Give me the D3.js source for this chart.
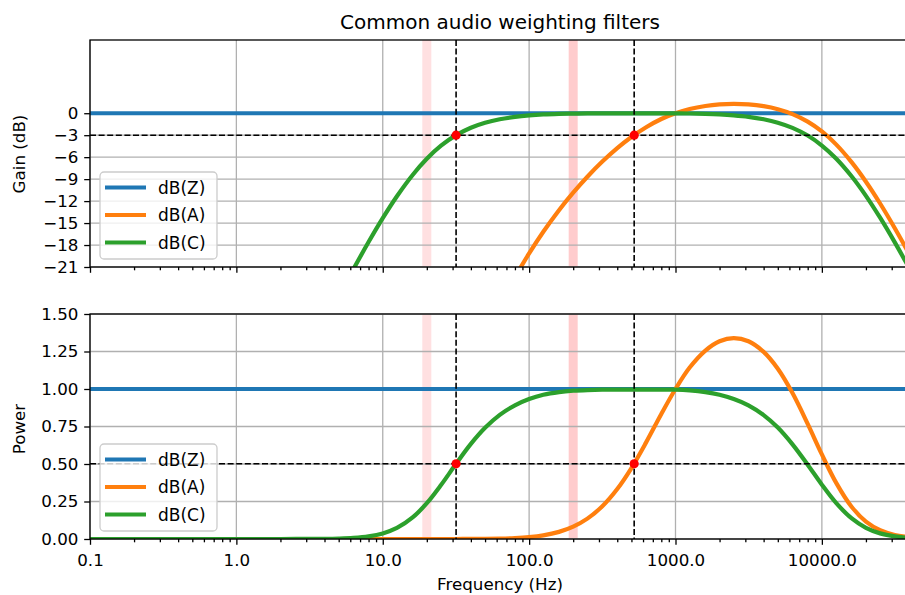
<!DOCTYPE html>
<html>
<head>
<meta charset="utf-8">
<script src="https://cdn.jsdelivr.net/npm/d3@7"></script>
<style>
body { margin: 0; background: #fff; }
svg text { font-family: "DejaVu Sans", sans-serif; fill: #000; }
</style>
</head>
<body>
<div id="chart"></div>
<script>
// frequencies (Hz) and the weighting gains (dB)
var freqs = [0.1, 1, 2, 4, 5, 6.3, 8, 10, 12.5, 16, 20, 25, 31.5, 40, 50, 63, 80, 100, 125, 160,
    200, 250, 315, 400, 500, 630, 800, 1000, 1250, 1600, 2000, 2500, 3150, 4000, 5000, 6300,
    8000, 10000, 12500, 16000, 20000, 25000, 31500, 40000];
var dbA = [-228.6, -148.6, -124.5, -100.7, -93.2, -85.4, -77.56, -70.44, -63.59, -56.43, -50.40,
    -44.82, -39.53, -34.54, -30.28, -26.22, -22.40, -19.15, -16.19, -13.24, -10.85, -8.67, -6.64,
    -4.77, -3.25, -1.91, -0.79, 0, 0.58, 0.99, 1.20, 1.27, 1.20, 0.96, 0.55, -0.12, -1.15, -2.49,
    -4.25, -6.71, -9.35, -12.33, -15.70, -19.41];
var dbC = [-92.50, -52.52, -40.54, -28.73, -25.03, -21.30, -17.59, -14.33, -11.34, -8.43, -6.22,
    -4.44, -3.03, -1.98, -1.30, -0.82, -0.50, -0.30, -0.17, -0.09, -0.05, -0.03, -0.02, -0.02, -0.02,
    -0.02, -0.02, -0.02, -0.04, -0.09, -0.17, -0.30, -0.50, -0.83, -1.29, -2.00, -3.05, -4.41, -6.18,
    -8.64, -11.28, -14.27, -17.64, -21.35];
var zFreqs = [0.1, 40000];
var dbZ = [0, 0];

var seriesNames = ["dB(Z)", "dB(A)", "dB(C)"];
var halfPowerFreqs = [31.7, 522];   // where C and A cross -3 dB
var bandFreqs = [20, 200];
var freqTicks = [0.1, 1, 10, 100, 1000, 10000];
var gainTicks = [0, -3, -6, -9, -12, -15, -18, -21];
var powerTicks = [0, 0.25, 0.5, 0.75, 1.0, 1.25, 1.5];

var width = 905, height = 595;
var margin = {left: 90, right: -5};
var colors = ["#1f77b4", "#ff7f0e", "#2ca02c"];
var bandColors = ["#ffe0e1", "#ffcccd"];

var svg = d3.select("#chart").append("svg").attr("width", width).attr("height", height);

var xs = d3.scaleLog().domain([0.1, 40000]).range([margin.left, width - margin.right]);

var minorTicks = [];
freqTicks.forEach(function(d) {
    for (var k = 2; k <= 9; k++) {
        if (d * k < 40000) minorTicks.push(d * k);
    }
});

function toPower(db) { return Math.pow(10, db / 10); }

function series(fs, vals) {
    return fs.map(function(f, i) { return {f: f, v: vals[i]}; });
}

function panel(opt) {
    var top = opt.top, bottom = opt.top + opt.h;
    var ys = d3.scaleLinear().domain(opt.domain).range([bottom, top]);
    var g = svg.append("g");
    var clipId = "clip" + opt.id;
    svg.append("clipPath").attr("id", clipId).append("rect")
        .attr("x", margin.left).attr("y", top)
        .attr("width", xs.range()[1] - margin.left).attr("height", opt.h);

    // bands
    g.selectAll(".band").data(bandFreqs).enter().append("rect")
        .attr("x", function(d) { return xs(d) - 4.5; })
        .attr("y", top).attr("width", 9).attr("height", opt.h)
        .attr("fill", function(d, i) { return bandColors[i]; });

    // grid
    g.selectAll(".vg").data(freqTicks).enter().append("line")
        .attr("x1", function(d) { return xs(d); }).attr("x2", function(d) { return xs(d); })
        .attr("y1", top).attr("y2", bottom)
        .attr("stroke", "#b0b0b0").attr("stroke-width", 1.3);
    g.selectAll(".hg").data(opt.ticks).enter().append("line")
        .attr("x1", margin.left).attr("x2", xs.range()[1])
        .attr("y1", function(d) { return ys(d); }).attr("y2", function(d) { return ys(d); })
        .attr("stroke", "#b0b0b0").attr("stroke-width", 1.3);

    var plot = g.append("g").attr("clip-path", "url(#" + clipId + ")");
    var line = d3.line()
        .x(function(d) { return xs(d.f); })
        .y(function(d) { return ys(opt.map(d.v)); })
        .curve(d3.curveCatmullRom.alpha(0.5));

    var data = [series(zFreqs, dbZ), series(freqs, dbA), series(freqs, dbC)];
    plot.selectAll(".curve").data(data).enter().append("path")
        .attr("d", line)
        .attr("fill", "none")
        .attr("stroke", function(d, i) { return colors[i]; })
        .attr("stroke-width", 4.2);

    // dashed guides
    var level = opt.map(-3);
    plot.append("line")
        .attr("x1", margin.left).attr("x2", xs.range()[1])
        .attr("y1", ys(level)).attr("y2", ys(level))
        .attr("stroke", "#000").attr("stroke-width", 1.6).attr("stroke-dasharray", "6,2.6");
    plot.selectAll(".vd").data(halfPowerFreqs).enter().append("line")
        .attr("x1", function(d) { return xs(d); }).attr("x2", function(d) { return xs(d); })
        .attr("y1", top).attr("y2", bottom)
        .attr("stroke", "#000").attr("stroke-width", 1.6).attr("stroke-dasharray", "6,2.6");
    plot.selectAll(".dot").data(halfPowerFreqs).enter().append("circle")
        .attr("cx", function(d) { return xs(d); })
        .attr("cy", ys(level))
        .attr("r", 4.6).attr("fill", "#ff0000");

    // axes
    g.append("g").attr("transform", "translate(0," + bottom + ")")
        .call(d3.axisBottom(xs).tickValues(freqTicks).tickSize(5.8).tickPadding(9)
            .tickFormat(opt.xLabels ? d3.format(".1f") : function() { return ""; }));
    g.append("g").attr("transform", "translate(0," + bottom + ")")
        .call(d3.axisBottom(xs).tickValues(minorTicks).tickSize(3.3).tickFormat(""));
    g.append("g").attr("transform", "translate(" + margin.left + ",0)")
        .call(d3.axisLeft(ys).tickValues(opt.ticks).tickSize(5.8).tickPadding(5.8)
            .tickFormat(opt.yFormat));
    g.selectAll(".domain").remove();
    g.selectAll(".tick line").attr("stroke", "#000").attr("stroke-width", 1.3);
    g.selectAll(".tick text").style("font-family", "DejaVu Sans, sans-serif")
        .style("font-size", "16.7px").attr("fill", "#000");

    g.append("rect")
        .attr("x", margin.left).attr("y", top)
        .attr("width", xs.range()[1] - margin.left).attr("height", opt.h)
        .attr("fill", "none").attr("stroke", "#000").attr("stroke-width", 1.3);

    // y label
    g.append("text")
        .attr("transform", "translate(25," + opt.labelY + ") rotate(-90)")
        .attr("text-anchor", "middle")
        .style("font-size", "16.7px")
        .text(opt.label);

    // legend
    var lg = g.append("g").attr("transform", "translate(100," + opt.legendTop + ")");
    lg.append("rect").attr("width", 117).attr("height", 87).attr("rx", 4)
        .attr("fill", "#fff").attr("fill-opacity", 0.8)
        .attr("stroke", "#cccccc").attr("stroke-width", 1.3);
    seriesNames.forEach(function(name, i) {
        var yy = 15.5 + i * 27.5;
        lg.append("line").attr("x1", 5).attr("x2", 46).attr("y1", yy).attr("y2", yy)
            .attr("stroke", colors[i]).attr("stroke-width", 4.2);
        lg.append("text").attr("x", 58).attr("y", yy + 6.2)
            .style("font-size", "17px").text(name);
    });
}

panel({id: 1, top: 40, h: 227, domain: [-21, 10], ticks: gainTicks,
    map: function(v) { return v; }, yFormat: function(d) { return d === 0 ? "0" : "\u2212" + Math.abs(d); },
    xLabels: false, label: "Gain (dB)", labelY: 154, legendTop: 172});

panel({id: 2, top: 314, h: 225, domain: [0, 1.5], ticks: powerTicks,
    map: toPower, yFormat: d3.format(".2f"),
    xLabels: true, label: "Power", labelY: 429, legendTop: 444});

svg.append("text").attr("x", 500).attr("y", 28.5).attr("text-anchor", "middle")
    .style("font-size", "20px").text("Common audio weighting filters");
svg.append("text").attr("x", 500).attr("y", 590).attr("text-anchor", "middle")
    .style("font-size", "16.7px").text("Frequency (Hz)");
</script>
</body>
</html>
